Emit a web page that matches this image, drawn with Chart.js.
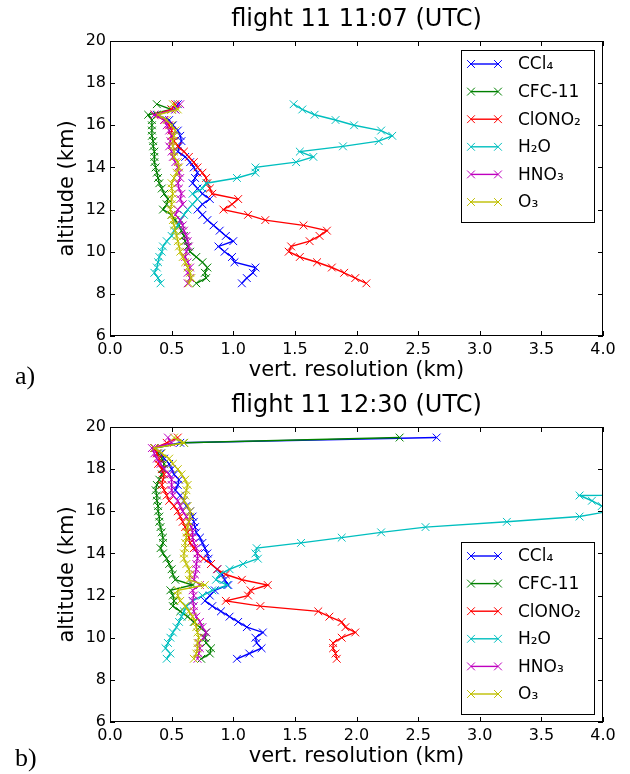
<!DOCTYPE html>
<html>
<head>
<meta charset="utf-8">
<script src="https://cdn.jsdelivr.net/npm/chart.js@4"></script>
<style>
body { margin: 0; background: #fff; width: 630px; height: 774px; position: relative; overflow: hidden; }
.panel { position: absolute; left: 0; width: 630px; height: 388px; }
.tag { position: absolute; left: 15px; font: 26px "Liberation Serif", serif; line-height: 26px; color: #000; }
</style>
</head>
<body>
<div class="panel" style="top:0"><canvas id="chartA" width="630" height="388"></canvas></div>
<div class="panel" style="top:386px"><canvas id="chartB" width="630" height="388"></canvas></div>
<div class="tag" style="top:363px">a)</div>
<div class="tag" style="top:745px">b)</div>
<script>
// species, in plotting order
const species = ['CCl₄', 'CFC-11', 'ClONO₂', 'H₂O', 'HNO₃', 'O₃'];
const colors = ['#0000ff', '#008000', '#ff0000', '#00bfbf', '#bf00bf', '#bfbf00'];

const xTicks = [0, 0.5, 1, 1.5, 2, 2.5, 3, 3.5, 4];
const yTicks = [6, 8, 10, 12, 14, 16, 18, 20];

// flight 11 11:07 - altitude grid (km)
const altA = [17, 16.75, 16.5, 16.25, 16, 15.75, 15.5, 15.25, 15, 14.75, 14.5, 14.25, 14, 13.75, 13.5, 13.25, 13,
  12.75, 12.5, 12.25, 12, 11.75, 11.5, 11.25, 11, 10.75, 10.5, 10.25, 10, 9.75, 9.5, 9.25, 9, 8.75, 8.5];
const ccl4A = [0.55, 0.53, 0.38, 0.48, 0.51, 0.55, 0.57, 0.58, 0.56, 0.55, 0.61, 0.65, 0.68, 0.71, 0.69, 0.67, 0.71,
  0.75, 0.81, 0.75, 0.71, 0.75, 0.79, 0.84, 0.89, 0.94, 1.00, 0.88, 0.93, 0.99, 1.01, 1.18, 1.16, 1.11, 1.07];
const cfc11A = [0.38, 0.50, 0.31, 0.34, 0.34, 0.34, 0.34, 0.35, 0.35, 0.36, 0.36, 0.36, 0.37, 0.38, 0.39, 0.40, 0.42,
  0.44, 0.47, 0.46, 0.43, 0.50, 0.53, 0.56, 0.58, 0.60, 0.61, 0.63, 0.65, 0.70, 0.75, 0.79, 0.77, 0.78, 0.70];
const clono2A = [0.53, 0.50, 0.36, 0.44, 0.48, 0.50, 0.50, 0.52, 0.55, 0.60, 0.64, 0.68, 0.71, 0.75, 0.78, 0.79, 0.81,
  0.83, 1.04, 0.99, 0.92, 1.12, 1.26, 1.57, 1.76, 1.70, 1.62, 1.47, 1.45, 1.54, 1.68, 1.80, 1.90, 1.99, 2.08];
const h2oA = [1.49, 1.56, 1.66, 1.83, 1.98, 2.20, 2.29, 2.18, 1.89, 1.54, 1.65, 1.51, 1.18, 1.18, 1.03, 0.78, 0.75,
  0.67, 0.71, 0.67, 0.63, 0.60, 0.57, 0.55, 0.52, 0.50, 0.46, 0.43, 0.42, 0.40, 0.39, 0.38, 0.36, 0.39, 0.41];
const hno3A = [0.57, 0.53, 0.36, 0.44, 0.46, 0.48, 0.50, 0.49, 0.48, 0.50, 0.51, 0.53, 0.55, 0.56, 0.57, 0.55, 0.56,
  0.58, 0.57, 0.59, 0.55, 0.53, 0.57, 0.59, 0.60, 0.62, 0.63, 0.64, 0.62, 0.61, 0.63, 0.65, 0.63, 0.65, 0.63];
const o3A = [0.51, 0.55, 0.39, 0.46, 0.50, 0.53, 0.52, 0.51, 0.51, 0.52, 0.52, 0.55, 0.56, 0.54, 0.52, 0.50, 0.50,
  0.51, 0.50, 0.50, 0.49, 0.50, 0.51, 0.52, 0.53, 0.54, 0.55, 0.56, 0.57, 0.59, 0.61, 0.63, 0.65, 0.66, 0.64];

// flight 11 12:30
const altB = [19.5, 19.25, 19, 18.75, 18.5, 18.25, 18, 17.75, 17.5, 17.25, 17, 16.75, 16.5, 16.25, 16, 15.75, 15.5,
  15.25, 15, 14.75, 14.5, 14.25, 14, 13.75, 13.5, 13.25, 13, 12.75, 12.5, 12.25, 12, 11.75, 11.5, 11.25, 11, 10.75,
  10.5, 10.25, 10, 9.75, 9.5, 9.25, 9];
const altH2oB = [17, 16.75, 16.5, 16.25, 16, 15.75, 15.5, 15.25, 15, 14.75, 14.5, 14.25, 14, 13.75, 13.5, 13.25, 13,
  12.75, 12.5, 12.25, 12, 11.75, 11.5, 11.25, 11, 10.75, 10.5, 10.25, 10, 9.75, 9.5, 9.25, 9];
const ccl4B = [2.65, 0.57, 0.36, 0.41, 0.44, 0.48, 0.50, 0.52, 0.56, 0.55, 0.53, 0.57, 0.60, 0.62, 0.65, 0.67, 0.68,
  0.69, 0.70, 0.73, 0.75, 0.77, 0.79, 0.80, 0.82, 0.87, 0.91, 0.93, 0.96, 0.85, 0.81, 0.77, 0.83, 0.90, 0.97, 1.04,
  1.11, 1.24, 1.18, 1.19, 1.23, 1.13, 1.03];
const cfc11B = [2.35, 0.60, 0.36, 0.39, 0.42, 0.44, 0.43, 0.42, 0.40, 0.38, 0.37, 0.38, 0.38, 0.39, 0.39, 0.40, 0.40,
  0.41, 0.42, 0.43, 0.43, 0.41, 0.43, 0.46, 0.48, 0.50, 0.51, 0.53, 0.67, 0.49, 0.51, 0.52, 0.51, 0.57, 0.63, 0.68,
  0.73, 0.78, 0.77, 0.78, 0.82, 0.81, 0.74];
const clono2B = [0.55, 0.46, 0.36, 0.38, 0.40, 0.39, 0.42, 0.44, 0.43, 0.42, 0.44, 0.46, 0.48, 0.52, 0.55, 0.57, 0.59,
  0.61, 0.63, 0.64, 0.65, 0.68, 0.71, 0.76, 0.82, 0.87, 0.94, 1.07, 1.28, 1.14, 1.12, 0.94, 1.22, 1.69, 1.78, 1.88,
  1.91, 1.99, 1.88, 1.81, 1.81, 1.83, 1.84];
const h2oB = [20, 3.81, 3.91, 3.99, 4.05, 3.81, 3.22, 2.56, 2.20, 1.88, 1.55, 1.19, 1.18, 1.20, 1.08, 0.97, 0.89,
  0.86, 0.95, 0.83, 0.75, 0.67, 0.62, 0.60, 0.58, 0.56, 0.54, 0.51, 0.49, 0.47, 0.45, 0.49, 0.46];
const hno3B = [0.47, 0.50, 0.34, 0.36, 0.38, 0.41, 0.44, 0.48, 0.50, 0.50, 0.50, 0.51, 0.55, 0.57, 0.59, 0.62, 0.64,
  0.66, 0.67, 0.67, 0.68, 0.70, 0.71, 0.71, 0.70, 0.70, 0.69, 0.68, 0.73, 0.67, 0.68, 0.67, 0.68, 0.68, 0.70, 0.73,
  0.75, 0.78, 0.76, 0.72, 0.73, 0.72, 0.71];
const o3B = [0.52, 0.60, 0.36, 0.42, 0.48, 0.51, 0.55, 0.58, 0.61, 0.63, 0.62, 0.61, 0.60, 0.63, 0.65, 0.65, 0.64,
  0.63, 0.62, 0.62, 0.61, 0.61, 0.60, 0.60, 0.62, 0.64, 0.65, 0.64, 0.77, 0.55, 0.55, 0.57, 0.61, 0.64, 0.67, 0.69,
  0.70, 0.71, 0.72, 0.71, 0.71, 0.70, 0.68];

const FONT = '"DejaVu Sans", sans-serif';

function toPoints(alt, res) {
  return alt.map((a, i) => ({ x: res[i], y: a }));
}

function makeDatasets(series) {
  return series.map((s, i) => ({
    label: species[i],
    data: toPoints(s.alt, s.res),
    showLine: true,
    borderColor: colors[i],
    backgroundColor: colors[i],
    borderWidth: 1.4,
    pointStyle: 'crossRot',
    pointRadius: 5.5,
    pointBorderWidth: 1,
    order: species.length - i   // matplotlib: later series on top
  }));
}

// inward ticks on all four sides plus the axes frame
const frameTicks = {
  id: 'frameTicks',
  afterDatasetsDraw(chart) {
    const { ctx, chartArea: a, scales: { x, y } } = chart;
    const len = 5;
    ctx.save();
    ctx.strokeStyle = '#000';
    ctx.lineWidth = 1;
    ctx.beginPath();
    x.ticks.forEach((t, i) => {
      const px = Math.round(x.getPixelForTick(i)) + 0.5;
      ctx.moveTo(px, a.bottom); ctx.lineTo(px, a.bottom - len);
      ctx.moveTo(px, a.top); ctx.lineTo(px, a.top + len);
    });
    y.ticks.forEach((t, i) => {
      const py = Math.round(y.getPixelForTick(i)) + 0.5;
      ctx.moveTo(a.left, py); ctx.lineTo(a.left + len, py);
      ctx.moveTo(a.right, py); ctx.lineTo(a.right - len, py);
    });
    ctx.stroke();
    ctx.strokeRect(Math.round(a.left) + 0.5, Math.round(a.top) + 0.5,
      Math.round(a.width) - 1, Math.round(a.height) - 1);
    ctx.restore();
  }
};

// boxed legend with two markers per entry
const boxLegend = {
  id: 'boxLegend',
  afterDraw(chart, args, opts) {
    const { ctx, chartArea: a } = chart;
    const w = 133, h = 172, step = 27.6;
    const left = a.right - 9 - w;
    const top = opts.corner === 'top' ? a.top + 9 : a.bottom - 8 - h;
    ctx.save();
    ctx.fillStyle = '#fff';
    ctx.fillRect(left, top, w, h);
    ctx.strokeStyle = '#000';
    ctx.lineWidth = 1;
    ctx.strokeRect(Math.round(left) + 0.5, Math.round(top) + 0.5, w, h);
    chart.data.datasets.forEach((ds, i) => {
      const yy = top + 14 + i * step;
      const x0 = left + 10, x1 = left + 37;
      ctx.strokeStyle = ds.borderColor;
      ctx.lineWidth = 1.4;
      ctx.beginPath();
      ctx.moveTo(x0, yy); ctx.lineTo(x1, yy);
      ctx.stroke();
      const style = { pointStyle: 'crossRot', radius: 5.5, borderWidth: 1 };
      ctx.lineWidth = 1;
      Chart.helpers.drawPoint(ctx, style, x0, yy);
      Chart.helpers.drawPoint(ctx, style, x1, yy);
      ctx.fillStyle = '#000';
      ctx.font = '17px ' + FONT;
      ctx.textBaseline = 'middle';
      ctx.fillText(ds.label, left + 57, yy + 1);
    });
    ctx.restore();
  }
};

function makeOptions(title, corner) {
  return {
    responsive: false,
    animation: false,
    events: [],
    layout: { padding: { left: 0, right: 27, top: 0, bottom: 4 } },
    plugins: {
      legend: { display: false },
      tooltip: { enabled: false },
      title: {
        display: true,
        text: title,
        fullSize: false,
        color: '#000',
        font: { family: FONT, size: 24, weight: 'normal' },
        padding: { top: 5, bottom: 7.2 }
      },
      boxLegend: { corner: corner }
    },
    scales: {
      x: {
        type: 'linear',
        min: 0,
        max: 4,
        afterBuildTicks: s => { s.ticks = xTicks.map(v => ({ value: v })); },
        afterFit: s => { s.height = 48; },
        grid: { display: false, drawTicks: false },
        border: { display: false },
        ticks: {
          autoSkip: false,
          maxRotation: 0,
          padding: 4,
          color: '#000',
          font: { family: FONT, size: 16 },
          callback: v => v.toFixed(1)
        },
        title: {
          display: true,
          text: 'vert. resolution (km)',
          color: '#000',
          font: { family: FONT, size: 21 },
          padding: { top: 0, bottom: 1 }
        }
      },
      y: {
        type: 'linear',
        min: 6,
        max: 20,
        afterBuildTicks: s => { s.ticks = yTicks.map(v => ({ value: v })); },
        afterFit: s => { s.width = 110; },
        grid: { display: false, drawTicks: false },
        border: { display: false },
        ticks: {
          autoSkip: false,
          padding: 4,
          color: '#000',
          font: { family: FONT, size: 16 },
          callback: v => String(v)
        },
        title: {
          display: true,
          text: 'altitude (km)',
          color: '#000',
          font: { family: FONT, size: 21 },
          padding: { top: 55, bottom: 0 }
        }
      }
    }
  };
}

new Chart(document.getElementById('chartA'), {
  type: 'scatter',
  data: {
    datasets: makeDatasets([
      { alt: altA, res: ccl4A },
      { alt: altA, res: cfc11A },
      { alt: altA, res: clono2A },
      { alt: altA, res: h2oA },
      { alt: altA, res: hno3A },
      { alt: altA, res: o3A }
    ])
  },
  options: makeOptions('flight 11 11:07 (UTC)', 'top'),
  plugins: [frameTicks, boxLegend]
});

new Chart(document.getElementById('chartB'), {
  type: 'scatter',
  data: {
    datasets: makeDatasets([
      { alt: altB, res: ccl4B },
      { alt: altB, res: cfc11B },
      { alt: altB, res: clono2B },
      { alt: altH2oB, res: h2oB },
      { alt: altB, res: hno3B },
      { alt: altB, res: o3B }
    ])
  },
  options: makeOptions('flight 11 12:30 (UTC)', 'bottom'),
  plugins: [frameTicks, boxLegend]
});
</script>
</body>
</html>
